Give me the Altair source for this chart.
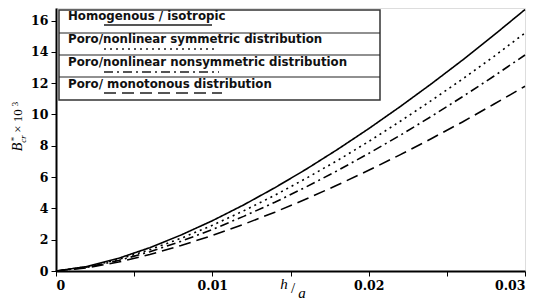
import altair as alt
import pandas as pd

# data
h_a = [0, 0.002, 0.004, 0.006, 0.008, 0.010, 0.012, 0.014, 0.016, 0.018,
       0.020, 0.022, 0.024, 0.026, 0.028, 0.030]
homogenous = [0, 0.29, 0.81, 1.49, 2.30, 3.21, 4.22, 5.32, 6.50, 7.76,
              9.09, 10.49, 11.95, 13.47, 15.06, 16.70]
symmetric = [0, 0.26, 0.74, 1.36, 2.09, 2.92, 3.84, 4.84, 5.92, 7.06,
             8.27, 9.55, 10.88, 12.26, 13.70, 15.20]
nonsymmetric = [0, 0.24, 0.67, 1.23, 1.90, 2.65, 3.49, 4.39, 5.37, 6.41,
                7.51, 8.66, 9.87, 11.13, 12.44, 13.80]
monotonous = [0, 0.21, 0.57, 1.05, 1.63, 2.27, 2.98, 3.76, 4.60, 5.49,
              6.43, 7.42, 8.45, 9.52, 10.65, 11.80]

series_names = [
    "Homogenous / isotropic",
    "Poro/nonlinear symmetric distribution",
    "Poro/nonlinear nonsymmetric distribution",
    "Poro/ monotonous distribution",
]
series_values = [homogenous, symmetric, nonsymmetric, monotonous]
dashes = [[1, 0], [2, 4], [9, 4, 2, 4], [12, 6]]
x_ticks = [0, 0.005, 0.01, 0.015, 0.02, 0.025, 0.03]
y_ticks = [0, 2, 4, 6, 8, 10, 12, 14, 16]

rows = []
for name, vals in zip(series_names, series_values):
    for x, y in zip(h_a, vals):
        rows.append({"h_a": x, "B": y, "series": name})
df = pd.DataFrame(rows)

W, H = 469, 263
SERIF = "Liberation Serif"

axis_style = dict(title=None, grid=False, labelFont="DejaVu Serif", labelFontWeight="bold",
                  labelFontSize=12.5, labelColor="black", tickColor="black",
                  tickSize=5, labelPadding=3, domainColor="black", domainWidth=2)

lines = alt.Chart(df).mark_line(color="black", strokeWidth=1.6).encode(
    x=alt.X("h_a:Q", scale=alt.Scale(domain=[0, 0.03], nice=False),
            axis=alt.Axis(values=x_ticks,
                          labelExpr="round(datum.value*1000) % 10 == 0 ? (datum.value == 0 ? '0' : format(datum.value, '.2f')) : ''",
                          **axis_style)),
    y=alt.Y("B:Q", scale=alt.Scale(domain=[0, 16.8], nice=False),
            axis=alt.Axis(values=y_ticks, **axis_style)),
    strokeDash=alt.StrokeDash("series:N", scale=alt.Scale(domain=series_names, range=dashes),
                              legend=None),
    detail="series:N",
)

one = alt.Data(values=[{}])
layers = [lines]

# legend box
layers.append(alt.Chart(one).mark_rect(fill="white", stroke="#333", strokeWidth=1.5).encode(
    x=alt.value(3), x2=alt.value(324), y=alt.value(2), y2=alt.value(92)))
for sy in [25, 47, 69]:
    layers.append(alt.Chart(one).mark_rule(color="#222", strokeWidth=1.2).encode(
        x=alt.value(3), x2=alt.value(324), y=alt.value(sy)))
text_y = [8, 31, 54, 76]
samp_y = [17, 41, 64, 85]
samp_end = [156, 158, 163, 166]
for i, name in enumerate(series_names):
    layers.append(alt.Chart(alt.Data(values=[{"t": name}])).mark_text(
        align="left", baseline="middle", font="DejaVu Sans", fontWeight="bold",
        fontSize=11.8, color="#111").encode(
        text="t:N", x=alt.value(12), y=alt.value(text_y[i])))
    layers.append(alt.Chart(one).mark_rule(color="#555", strokeWidth=2,
                                           strokeDash=dashes[i]).encode(
        x=alt.value(48), x2=alt.value(samp_end[i]), y=alt.value(samp_y[i])))

# axis title pieces
def txt(t, x, y, size, style="normal", angle=270):
    return alt.Chart(alt.Data(values=[{"t": t}])).mark_text(
        align="center", baseline="middle", font=SERIF, fontSize=size,
        fontStyle=style, angle=angle, color="black").encode(
        text="t:N", x=alt.value(x), y=alt.value(y))

layers += [
    txt("B", -38, 139, 14, "italic"),
    txt("*", -42, 131, 9),
    txt("cr", -33, 131, 9, "italic"),
    txt("× 10", -38, 113, 13),
    txt("3", -41, 96, 9),
]
layers += [
    txt("h", 228, 276, 15, "italic", 0),
    txt("/", 237, 280, 15, "normal", 0),
    txt("a", 246, 285, 15, "italic", 0),
]

chart = alt.layer(*layers).properties(
    width=W, height=H,
    autosize=alt.AutoSizeParams(type="none"),
    padding={"left": 48, "top": 0, "right": 3, "bottom": 31},
).configure_view(stroke="black", strokeWidth=1.5).configure(background="white")

chart.save("out.html", embed_options={"renderer": "svg", "actions": False})
